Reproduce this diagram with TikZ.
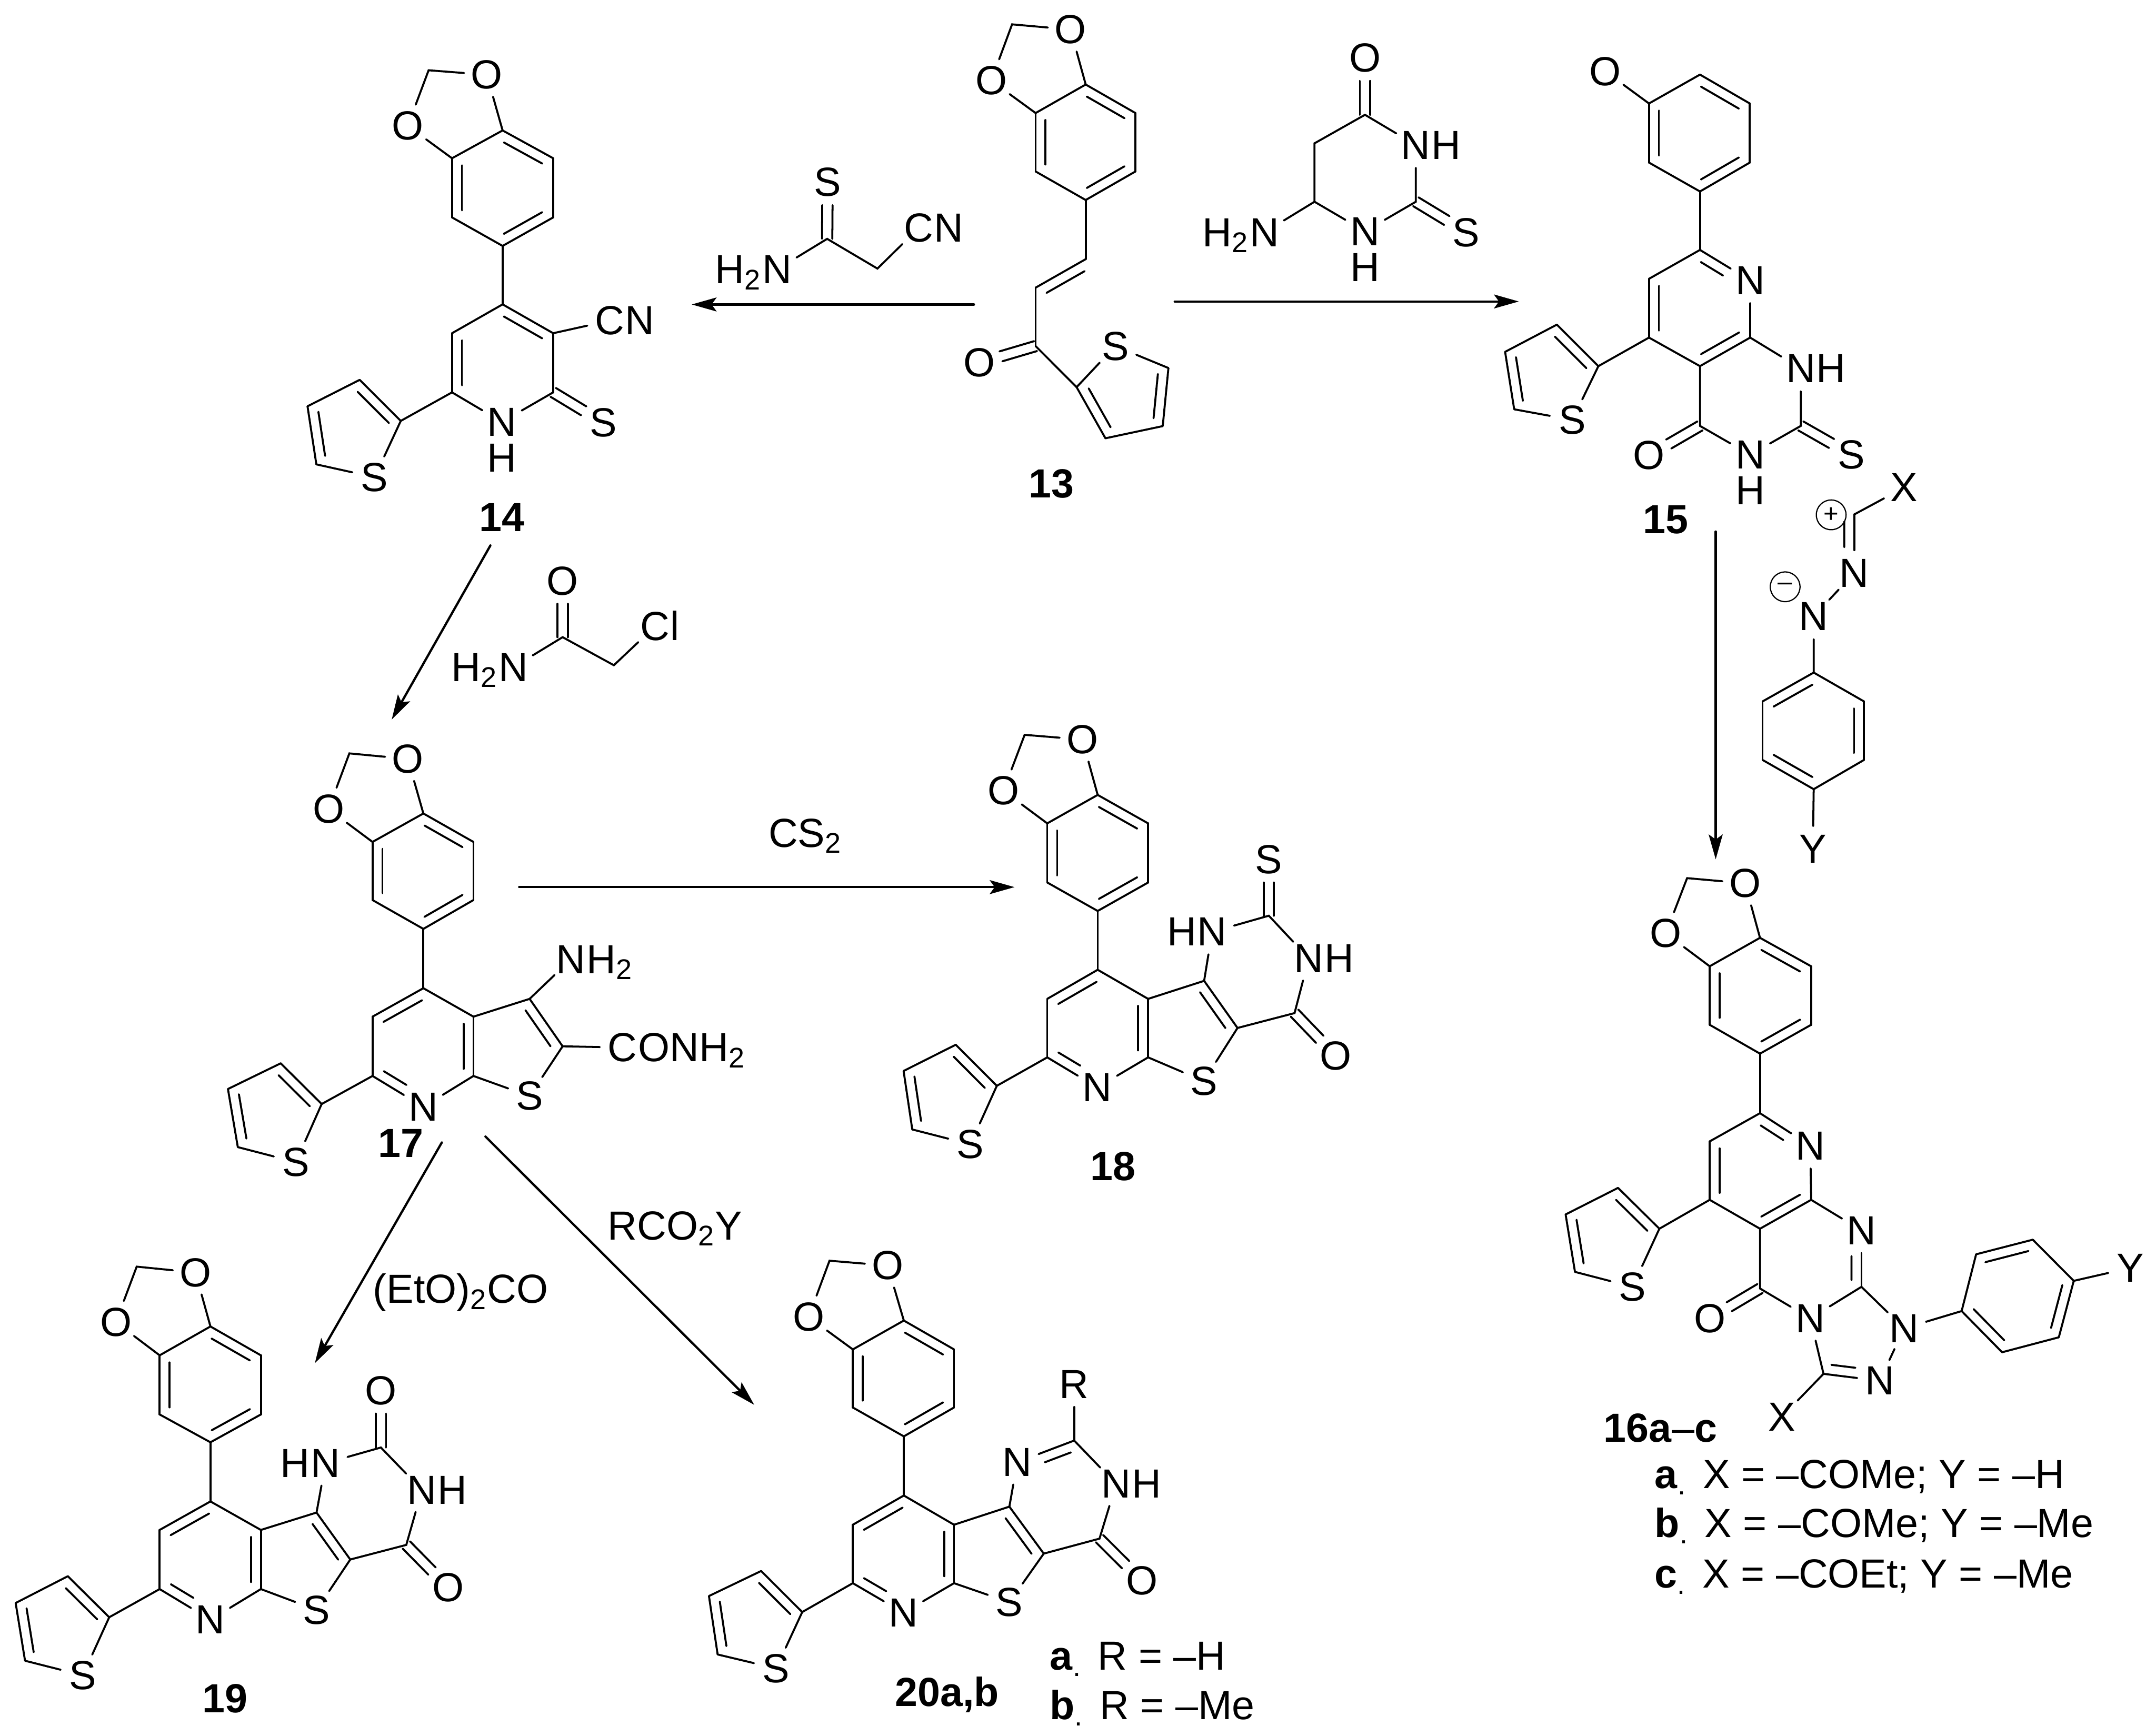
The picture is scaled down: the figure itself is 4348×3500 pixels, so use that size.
\documentclass[tikz,border=0pt]{standalone}
\usepackage{fontspec}
\setmainfont{Liberation Sans}
\usetikzlibrary{arrows.meta,calc}
\tikzset{
  zone/.style n args={4}{shift={(#1,#2)},x={0.25pt*#3/1568},y={-0.25pt*#4/1568}},
  atom/.style={circle,inner sep=0pt,minimum size=22pt},
  tail/.style={anchor=base west,inner sep=0pt,xshift=7.4pt},
  head/.style={anchor=base east,inner sep=0pt,xshift=-7.4pt},
  lab/.style={inner sep=0pt,font=\fontsize{20.5}{24}\selectfont\bfseries},
  txt/.style={anchor=base west,inner sep=0pt},
  charge/.style={circle,draw,line width=.6pt,inner sep=0pt,minimum size=15pt},
  rxn/.style={line width=1.15pt,-{Stealth[length=12.5pt,width=7pt,inset=2.5pt]}}
}
\newcommand{\dbl}[3][5pt]{\draw (#2) -- (#3);
  \draw ($(#2)!.12!(#3)!#1!-90:(#3)$) -- ($(#3)!.12!(#2)!#1!90:(#2)$);}
\newcommand{\dbn}[3][5pt]{\draw (#2) -- (#3);
  \draw[shorten >=13pt] ($(#2)!.12!(#3)!#1!-90:(#3)$) -- ($(#3)!#1!90:(#2)$);}
\newcommand{\two}[2]{\draw[shorten >=11.5pt] ($(#1)!2.6pt!90:(#2)$) -- ($(#2)!2.6pt!-90:(#1)$);
  \draw[shorten >=11.5pt] ($(#1)!2.6pt!-90:(#2)$) -- ($(#2)!2.6pt!90:(#1)$);}
\newcommand{\phenyl}[7]{\coordinate (#1a) at #2; \coordinate (#1b) at #3; \coordinate (#1c) at #4;
  \coordinate (#1d) at #5; \coordinate (#1e) at #6; \coordinate (#1f) at #7;
  \dbl{#1a}{#1b} \draw (#1b) -- (#1c); \dbl{#1c}{#1d} \draw (#1d) -- (#1e); \dbl{#1e}{#1f} \draw (#1f) -- (#1a);}
\newcommand{\dioxole}[4]{\node[atom] (#1o1) at #2 {O}; \coordinate (#1ch) at #3; \node[atom] (#1o2) at #4 {O};
  \draw (#1f) -- (#1o1) -- (#1ch) -- (#1o2) -- (#1a);}
\newcommand{\thienyl}[6]{\coordinate (#1a) at #2; \coordinate (#1b) at #3; \coordinate (#1c) at #4;
  \coordinate (#1d) at #5; \node[atom] (#1s) at #6 {S};
  \dbl[-5pt]{#1a}{#1b} \draw (#1b) -- (#1c); \dbl[-5pt]{#1c}{#1d} \draw (#1d) -- (#1s) -- (#1a);}
\newcommand{\core}[9]{\coordinate (#1a) at #2; \coordinate (#1b) at #3; \coordinate (#1c) at #4;
  \node[atom] (#1n) at #5 {N}; \coordinate (#1d) at #6; \coordinate (#1e) at #7;
  \coordinate (#1f) at #8; \coordinate (#1g) at #9;
  \dbl{#1e}{#1a} \draw (#1a) -- (#1b); \dbl{#1b}{#1c} \draw (#1c) -- (#1n); \dbn[-5pt]{#1d}{#1n} \draw (#1d) -- (#1e);
  \draw (#1b) -- (#1f); \dbl{#1f}{#1g} \draw (#1g) -- (#1s) -- (#1c);}
\begin{document}
\begin{tikzpicture}[x=.25pt,y=-.25pt,line width=1pt,line cap=round,font=\fontsize{20.5}{24}\selectfont]
\useasboundingbox (0,0) rectangle (4348,3500);

\begin{scope}[zone={550}{0}{1000}{1100}]
\phenyl{m14r}{(727,375)}{(887,455)}{(887,625)}{(727,707)}{(567,625)}{(567,455)}
\dioxole{m14r}{(427,362)}{(493,202)}{(677,215)}
\coordinate (m14a) at (727,875);
\coordinate (m14b) at (887,958);
\coordinate (m14c) at (887,1128);
\node[atom] (m14n) at (725,1213) {N};
\node[atom] (m14h) at (725,1316) {H};
\coordinate (m14d) at (567,1128);
\coordinate (m14e) at (567,958);
\node[atom] (m14cn) at (1065,922) {C};
\node[tail] (m14cn2) at (m14cn.base) {N};
\node[atom] (m14s) at (1045,1215) {S};
\draw (m14rd) -- (m14a);
\dbl{m14a}{m14b}
\draw (m14b) -- (m14c);
\draw (m14c) -- (m14n) -- (m14d);
\dbl{m14d}{m14e}
\draw (m14e) -- (m14a);
\draw (m14b) -- (m14cn);
\two{m14c}{m14s}
\thienyl{m14t}{(405,1210)}{(275,1092)}{(110,1168)}{(138,1335)}{(322,1372)}
\draw (m14d) -- (m14ta);
\node[lab] (l14) at (725,1488) {14};
\end{scope}

\begin{scope}[zone={1380}{300}{600}{522.67}]
\coordinate (r1c) at (753,545);
\node[atom] (r1s) at (755,203) {S};
\node[atom] (r1n) at (489,730) {N};
\node[head] (r1h) at (r1n.base) {H\textsubscript{2}};
\coordinate (r1ch) at (1018,725);
\node[atom] (r1cn) at (1235,480) {C};
\node[tail] (r1cn2) at (r1cn.base) {N};
\two{r1c}{r1s}
\draw (r1n) -- (r1c) -- (r1ch) -- (r1cn);
\end{scope}

\begin{scope}[zone={1800}{0}{1200}{1100}]
\phenyl{m13r}{(509,243)}{(640,325)}{(640,493)}{(509,575)}{(377,493)}{(377,325)}
\dioxole{m13r}{(260,232)}{(315,70)}{(469,85)}
\coordinate (m13a) at (509,745);
\coordinate (m13b) at (377,827);
\coordinate (m13c) at (377,995);
\node[atom] (m13o) at (228,1043) {O};
\draw (m13rd) -- (m13a);
\dbl[-5pt]{m13a}{m13b}
\draw (m13b) -- (m13c);
\two{m13c}{m13o}
\thienyl{m13t}{(485,1113)}{(561,1260)}{(712,1225)}{(727,1058)}{(587,995)}
\draw (m13c) -- (m13ta);
\node[lab] (l13) at (418,1390) {13};
\node[atom] (r2o) at (1245,167) {O};
\coordinate (r2a) at (1245,330);
\node[atom] (r2n3) at (1379,417) {N};
\node[tail] (r2h3) at (r2n3.base) {H};
\coordinate (r2b) at (1379,580);
\node[atom] (r2s) at (1512,668) {S};
\node[atom] (r2n1) at (1245,665) {N};
\node[atom] (r2h1) at (1245,768) {H};
\coordinate (r2c) at (1112,580);
\coordinate (r2d) at (1112,412);
\node[atom] (r2n) at (980,668) {N};
\node[head] (r2h) at (r2n.base) {H\textsubscript{2}};
\two{r2a}{r2o}
\two{r2b}{r2s}
\draw (r2a) -- (r2n3) -- (r2b) -- (r2n1) -- (r2c) -- (r2d) -- (r2a);
\draw (r2c) -- (r2n);
\end{scope}

\begin{scope}[zone={2950}{50}{1250}{1050}]
\phenyl{m15r}{(600,150)}{(726,237)}{(726,415)}{(600,502)}{(471,415)}{(471,237)}
\node[atom] (m15p) at (360,140) {O};
\draw (m15rf) -- (m15p);
\coordinate (m15a) at (600,678);
\node[atom] (m15n) at (727,770) {N};
\coordinate (m15b) at (727,942);
\coordinate (m15c) at (600,1028);
\coordinate (m15d) at (471,942);
\coordinate (m15e) at (471,765);
\node[atom] (m15n1) at (855,1035) {N};
\node[tail] (m15h1) at (m15n1.base) {H};
\coordinate (m15f) at (855,1208);
\node[atom] (m15s) at (983,1295) {S};
\node[atom] (m15n3) at (727,1295) {N};
\node[atom] (m15h3) at (727,1402) {H};
\coordinate (m15g) at (600,1208);
\node[atom] (m15o) at (471,1297) {O};
\draw (m15rd) -- (m15a);
\dbn{m15a}{m15n}
\draw (m15n) -- (m15b);
\dbl{m15b}{m15c}
\draw (m15c) -- (m15d);
\dbl{m15d}{m15e}
\draw (m15e) -- (m15a);
\draw (m15b) -- (m15n1) -- (m15f) -- (m15n3) -- (m15g) -- (m15c);
\two{m15f}{m15s}
\two{m15g}{m15o}
\thienyl{m15t}{(343,1028)}{(238,903)}{(107,985)}{(130,1158)}{(277,1190)}
\draw (m15d) -- (m15ta);
\node[lab] (l15) at (513,1490) {15};
\end{scope}

\begin{scope}[zone={3000}{1000}{1348}{1250}]
\node[atom] (r3x) at (977,-21) {X};
\coordinate (r3c) at (860,47);
\node[atom] (r3n1) at (860,195) {N};
\node[atom] (r3n2) at (765,305) {N};
\node[charge] (r3p) at (806,48) {\fontsize{13}{13}\selectfont +};
\node[charge] (r3m) at (698,230) {\fontsize{13}{13}\selectfont –};
\phenyl{r3r}{(645,520)}{(765,447)}{(883,520)}{(883,668)}{(765,742)}{(645,668)}
\node[atom] (r3y) at (763,893) {Y};
\draw (r3x) -- (r3c);
\dbn{r3c}{r3n1}
\draw (r3n1) -- (r3n2) -- (r3rb);
\draw (r3re) -- (r3y);
\phenyl{m16r}{(639,1118)}{(759,1190)}{(759,1338)}{(639,1411)}{(521,1338)}{(521,1190)}
\dioxole{m16r}{(418,1107)}{(468,967)}{(604,980)}
\end{scope}

\begin{scope}[zone={3000}{2200}{1348}{1050}]
\coordinate (m16a) at (639,67);
\node[atom] (m16n) at (757,165) {N};
\coordinate (m16b) at (759,328);
\coordinate (m16c) at (639,415);
\coordinate (m16d) at (521,328);
\coordinate (m16e) at (521,152);
\node[atom] (m16n2) at (877,420) {N};
\coordinate (m16f) at (877,590);
\node[atom] (m16n3) at (757,685) {N};
\coordinate (m16g) at (639,595);
\node[atom] (m16o) at (521,685) {O};
\node[atom] (m16n4) at (977,715) {N};
\node[atom] (m16n5) at (920,873) {N};
\coordinate (m16h) at (788,852);
\node[atom] (m16x) at (690,982) {X};
\node[atom] (m16y) at (1508,533) {Y};
\draw (m16rd) -- (m16a);
\dbn{m16a}{m16n}
\draw (m16n) -- (m16b);
\dbl{m16b}{m16c}
\draw (m16c) -- (m16d);
\dbl{m16d}{m16e}
\draw (m16e) -- (m16a);
\draw (m16b) -- (m16n2);
\dbn[-5pt]{m16f}{m16n2}
\draw (m16f) -- (m16n3) -- (m16g) -- (m16c);
\two{m16g}{m16o}
\draw (m16f) -- (m16n4) -- (m16n5);
\dbn[-5pt]{m16h}{m16n5}
\draw (m16h) -- (m16n3);
\draw (m16h) -- (m16x);
\phenyl{m16q}{(1207,787)}{(1112,663)}{(1146,492)}{(1279,448)}{(1375,572)}{(1340,742)}
\draw (m16n4) -- (m16qb);
\draw (m16qe) -- (m16y);
\thienyl{m16t}{(403,415)}{(306,292)}{(183,372)}{(205,545)}{(340,590)}
\draw (m16d) -- (m16ta);
\node[txt] (l16) at (270,1057) {\textbf{16a}–\textbf{c}};
\node[txt] (l16a) at (390,1197) {\textbf{a}\textsubscript{.}\hspace{.4em}X = –COMe; Y = –H};
\node[txt] (l16b) at (390,1345) {\textbf{b}\textsubscript{.}\hspace{.4em}X = –COMe; Y = –Me};
\node[txt] (l16c) at (390,1497) {\textbf{c}\textsubscript{.}\hspace{.4em}X = –COEt; Y = –Me};
\end{scope}

\begin{scope}[zone={400}{1100}{1200}{1250}]
\node[atom] (r4o) at (960,90) {O};
\coordinate (r4a) at (960,232);
\node[atom] (r4n) at (830,308) {N};
\node[head] (r4h) at (r4n.base) {H\textsubscript{2}};
\coordinate (r4b) at (1095,303);
\node[atom] (r4c) at (1203,205) {C};
\node[tail] (r4l) at (r4c.base) {l};
\two{r4a}{r4o}
\draw (r4n) -- (r4a) -- (r4b) -- (r4c);
\phenyl{m17r}{(593,678)}{(725,750)}{(725,897)}{(593,970)}{(459,897)}{(459,750)}
\dioxole{m17r}{(343,667)}{(398,526)}{(552,540)}
\node[atom] (m17s) at (873,1393) {S};
\core{m17}{(593,1120)}{(725,1192)}{(725,1342)}{(593,1420)}{(459,1342)}{(459,1192)}{(873,1147)}{(960,1267)}
\node[atom] (m17n2) at (982,1047) {N};
\node[tail] (m17h2) at (m17n2.base) {H\textsubscript{2}};
\node[atom] (m17co) at (1118,1270) {C};
\node[tail] (m17co2) at (m17co.base) {ONH\textsubscript{2}};
\draw (m17rd) -- (m17a);
\draw (m17f) -- (m17n2);
\draw (m17g) -- (m17co);
\thienyl{m17t}{(325,1413)}{(217,1310)}{(78,1375)}{(104,1522)}{(257,1560)}
\draw (m17d) -- (m17ta);
\node[lab] (l17) at (533,1512) {17};
\end{scope}

\begin{scope}[zone={1750}{1450}{1100}{1000}]
\phenyl{m18r}{(661,240)}{(806,330)}{(806,517)}{(661,607)}{(516,517)}{(516,330)}
\dioxole{m18r}{(390,227)}{(451,50)}{(617,65)}
\node[atom] (m18s) at (966,1145) {S};
\core{m18}{(661,793)}{(806,885)}{(806,1070)}{(660,1165)}{(516,1070)}{(516,885)}{(967,828)}{(1063,977)}
\node[atom] (m18n1) at (990,673) {N};
\node[head] (m18h1) at (m18n1.base) {H};
\coordinate (m18h) at (1153,622);
\node[atom] (m18s2) at (1153,445) {S};
\node[atom] (m18n3) at (1268,757) {N};
\node[tail] (m18h3) at (m18n3.base) {H};
\coordinate (m18i) at (1227,930);
\node[atom] (m18o) at (1345,1065) {O};
\draw (m18rd) -- (m18a);
\draw (m18f) -- (m18n1) -- (m18h) -- (m18n3) -- (m18i) -- (m18g);
\two{m18h}{m18s2}
\two{m18i}{m18o}
\thienyl{m18t}{(371,1160)}{(253,1030)}{(103,1113)}{(128,1298)}{(295,1345)}
\draw (m18d) -- (m18ta);
\node[lab] (l18) at (705,1415) {18};
\end{scope}

\begin{scope}[zone={0}{2400}{1100}{1100}]
\phenyl{m19r}{(605,392)}{(750,475)}{(750,645)}{(605,725)}{(459,645)}{(459,475)}
\dioxole{m19r}{(333,380)}{(393,220)}{(562,237)}
\node[atom] (m19s) at (910,1207) {S};
\core{m19}{(605,895)}{(750,977)}{(750,1147)}{(605,1235)}{(459,1147)}{(459,977)}{(910,927)}{(1007,1062)}
\node[atom] (m19n1) at (936,785) {N};
\node[head] (m19h1) at (m19n1.base) {H};
\coordinate (m19h) at (1095,740);
\node[atom] (m19o2) at (1095,577) {O};
\node[atom] (m19n3) at (1213,862) {N};
\node[tail] (m19h3) at (m19n3.base) {H};
\coordinate (m19i) at (1168,1020);
\node[atom] (m19o) at (1288,1142) {O};
\draw (m19rd) -- (m19a);
\draw (m19f) -- (m19n1) -- (m19h) -- (m19n3) -- (m19i) -- (m19g);
\two{m19h}{m19o2}
\two{m19i}{m19o}
\thienyl{m19t}{(314,1228)}{(195,1110)}{(45,1187)}{(72,1353)}{(238,1395)}
\draw (m19d) -- (m19ta);
\node[lab] (l19) at (647,1462) {19};
\node[txt] (t19) at (1070,325) {(EtO)\textsubscript{2}CO};
\end{scope}

\begin{scope}[zone={1350}{2400}{1250}{1100}]
\phenyl{m20r}{(593,375)}{(720,458)}{(720,625)}{(593,708)}{(464,625)}{(464,458)}
\dioxole{m20r}{(352,365)}{(405,203)}{(552,217)}
\node[atom] (m20s) at (860,1185) {S};
\core{m20}{(593,878)}{(720,962)}{(720,1130)}{(592,1215)}{(464,1130)}{(464,962)}{(860,910)}{(947,1045)}
\node[atom] (m20n1) at (880,782) {N};
\coordinate (m20h) at (1024,720);
\node[atom] (m20x) at (1024,558) {R};
\node[atom] (m20n3) at (1130,845) {N};
\node[tail] (m20h3) at (m20n3.base) {H};
\coordinate (m20i) at (1088,1002);
\node[atom] (m20o) at (1195,1123) {O};
\draw (m20rd) -- (m20a);
\draw (m20f) -- (m20n1);
\dbn[-5pt]{m20h}{m20n1}
\draw (m20h) -- (m20x);
\draw (m20h) -- (m20n3) -- (m20i) -- (m20g);
\two{m20i}{m20o}
\thienyl{m20t}{(336,1213)}{(232,1095)}{(100,1167)}{(122,1335)}{(270,1375)}
\draw (m20d) -- (m20ta);
\node[lab] (l20) at (702,1450) {20a,b};
\node[txt] (l20a) at (960,1380) {\textbf{a}\textsubscript{.}\hspace{.4em}R = –H};
\node[txt] (l20b) at (960,1522) {\textbf{b}\textsubscript{.}\hspace{.4em}R = –Me};
\end{scope}

\node[txt] (t18) at (1548,1708) {CS\textsubscript{2}};
\node[txt] (t20) at (1224,2500) {RCO\textsubscript{2}Y};

\coordinate (s1) at (1964,614);
\coordinate (e1) at (1395,614);
\coordinate (s2) at (2369,608);
\coordinate (e2) at (3063,608);
\coordinate (s3) at (989,1100);
\coordinate (e3) at (790,1451);
\coordinate (s4) at (3460,1072);
\coordinate (e4) at (3460,1733);
\coordinate (s5) at (1047,1789);
\coordinate (e5) at (2046,1789);
\coordinate (s6) at (891,2304);
\coordinate (e6) at (635,2749);
\coordinate (s7) at (979,2292);
\coordinate (e7) at (1521,2833);
\draw[rxn] (s1) -- (e1);
\draw[rxn] (s2) -- (e2);
\draw[rxn] (s3) -- (e3);
\draw[rxn] (s4) -- (e4);
\draw[rxn] (s5) -- (e5);
\draw[rxn] (s6) -- (e6);
\draw[rxn] (s7) -- (e7);
\end{tikzpicture}
\end{document}
